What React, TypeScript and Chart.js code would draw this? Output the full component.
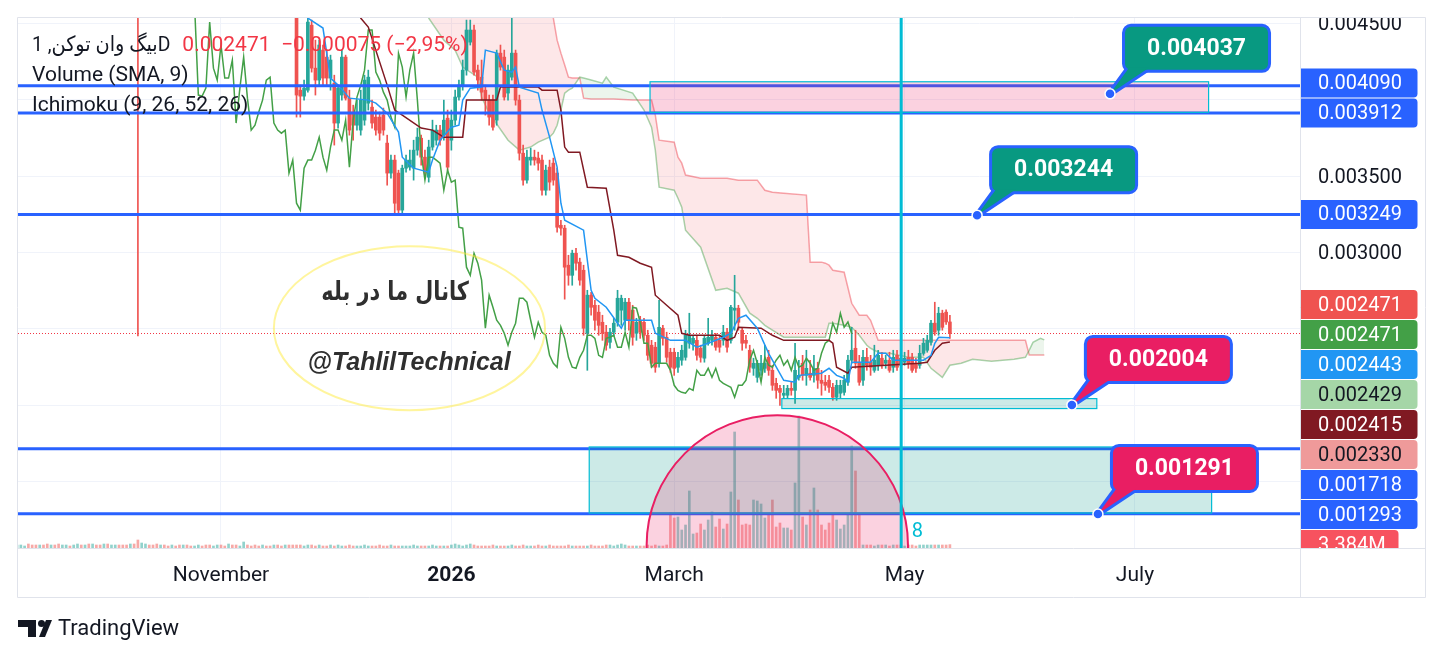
import React, { useEffect, useRef } from 'react';
import { Chart, registerables } from 'chart.js';

Chart.register(...registerables);

// ---------- axes (x: days since 1 Nov 2025, y: price in 0.000001) ----------
const xMinDay = -53.75;
const xMaxDay = 285.7;
const monthTickDays = [0, 61, 120, 181, 242];
const monthTickLabels = ['November', '2026', 'March', 'May', 'July'];
const yMinMicro = 1068.6;
const yMaxMicro = 4532.7;
const priceGridTicks = [1500, 2000, 2500, 3000, 3500, 4000, 4500];
const priceLabelTicks = [3000, 3500, 4500];
const volumeAxisMax = 530;

// ---------- candles ----------
const firstCandleDay = 19;
const candleOpen = [4760,
  4585, 4061, 4022, 4061, 4486, 4205, 4127, 4323, 4277, 4140,
  4107, 3846, 4029, 4277, 4009, 3918, 3832, 3800, 3865, 3976,
  3950, 3885, 3885, 3898, 3715, 3519, 3604, 3519, 3277, 3551,
  3558, 3551, 3669, 3747, 3623, 3492, 3689, 3734, 3800, 3767,
  3878, 3734, 3865, 4016, 4094, 4192, 4375, 4454, 4192, 4146,
  4061, 3996, 3996, 3865, 4303, 4277, 4042, 4146, 4303, 3996,
  3649, 3473, 3604, 3623, 3617, 3604, 3407, 3558, 3584, 3519,
  3178, 3159, 2917, 2851, 2995, 2937, 2884, 2472, 2721, 2655,
  2610, 2544, 2479, 2413, 2479, 2544, 2623, 2557, 2675, 2623,
  2472, 2557, 2544, 2459, 2394, 2381, 2276, 2505, 2446, 2348,
  2348, 2250, 2296, 2315, 2407, 2407, 2426, 2374, 2309, 2407,
  2426, 2446, 2426, 2426, 2479, 2426, 2623, 2636, 2492, 2426,
  2361, 2243, 2184, 2230, 2243, 2315, 2230, 2145, 2112, 2067,
  2067, 2112, 2099, 2184, 2276, 2197, 2211, 2197, 2243, 2165,
  2152, 2165, 2119, 2054, 2080, 2086, 2152, 2296, 2374, 2283,
  2165, 2315, 2283, 2230, 2263, 2309, 2276, 2296, 2250, 2328,
  2309, 2283, 2315, 2315, 2276, 2263, 2341, 2361, 2413, 2538,
  2492, 2603, 2610, 2546];
const candleHigh = [4800,
  4617, 4094, 4127, 4532, 4519, 4388, 4388, 4356, 4323, 4290,
  4159, 4094, 4323, 4290, 4061, 3963, 3996, 4061, 4159, 4192,
  3996, 3931, 3918, 3944, 3767, 3636, 3636, 3538, 3571, 3636,
  3669, 3734, 3813, 3767, 3669, 3734, 3865, 3832, 3832, 3996,
  3931, 3931, 4061, 4127, 4258, 4519, 4519, 4486, 4225, 4258,
  4094, 4029, 4029, 4323, 4356, 4323, 4225, 4585, 4323, 4029,
  3702, 3669, 3682, 3669, 3656, 3636, 3571, 3604, 3617, 3551,
  3211, 3178, 2982, 3015, 3028, 2963, 2917, 2753, 2740, 2688,
  2655, 2590, 2524, 2505, 2570, 2753, 2721, 2701, 2701, 2655,
  2570, 2583, 2570, 2492, 2426, 2413, 2688, 2524, 2479, 2374,
  2374, 2348, 2394, 2492, 2603, 2459, 2459, 2394, 2459, 2570,
  2492, 2472, 2459, 2524, 2505, 2655, 2851, 2655, 2505, 2459,
  2394, 2309, 2296, 2328, 2394, 2361, 2263, 2178, 2132, 2132,
  2132, 2152, 2407, 2296, 2328, 2361, 2296, 2328, 2283, 2230,
  2197, 2197, 2145, 2165, 2165, 2197, 2328, 2511, 2492, 2328,
  2361, 2374, 2328, 2394, 2361, 2348, 2328, 2348, 2361, 2361,
  2374, 2348, 2361, 2341, 2309, 2394, 2439, 2459, 2557, 2675,
  2642, 2623, 2625, 2590];
const candleLow = [4600,
  3885, 3885, 3996, 4048, 4179, 4029, 4094, 4094, 4094, 4061,
  3702, 3813, 3996, 3996, 3767, 3734, 3800, 3767, 3832, 3931,
  3813, 3767, 3734, 3767, 3440, 3486, 3257, 3257, 3257, 3525,
  3538, 3473, 3636, 3571, 3486, 3460, 3669, 3702, 3702, 3734,
  3538, 3669, 3832, 3996, 4061, 4159, 4356, 4159, 4061, 3996,
  3898, 3832, 3800, 3832, 4192, 3996, 3996, 4127, 3963, 3604,
  3440, 3453, 3571, 3571, 3538, 3375, 3375, 3407, 3440, 3133,
  3113, 2695, 2786, 2786, 2884, 2786, 2459, 2230, 2590, 2492,
  2459, 2426, 2361, 2374, 2453, 2518, 2524, 2492, 2492, 2394,
  2426, 2439, 2426, 2296, 2250, 2217, 2250, 2394, 2283, 2217,
  2197, 2217, 2263, 2296, 2374, 2361, 2296, 2283, 2283, 2394,
  2394, 2361, 2348, 2394, 2348, 2407, 2492, 2492, 2361, 2374,
  2217, 2197, 2152, 2197, 2217, 2197, 2099, 2047, 2001, 2047,
  2047, 2067, 2014, 2165, 2165, 2132, 2165, 2152, 2112, 2067,
  2099, 2086, 2034, 2034, 2047, 2067, 2132, 2276, 2243, 2132,
  2132, 2230, 2197, 2217, 2230, 2243, 2243, 2217, 2217, 2230,
  2243, 2263, 2243, 2217, 2217, 2243, 2328, 2348, 2394, 2459,
  2459, 2492, 2530, 2439];
const candleClose = [4620,
  4029, 4022, 4074, 4506, 4205, 4127, 4356, 4140, 4140, 4258,
  3846, 4074, 4277, 4009, 3800, 3832, 3918, 3996, 4127, 4146,
  3846, 3800, 3780, 3800, 3519, 3604, 3322, 3277, 3551, 3604,
  3604, 3669, 3754, 3623, 3538, 3689, 3800, 3800, 3734, 3865,
  3558, 3865, 4016, 4094, 4192, 4454, 4454, 4179, 4127, 4048,
  3996, 3885, 3819, 4303, 4212, 4016, 4192, 4303, 3996, 3649,
  3473, 3623, 3623, 3604, 3584, 3407, 3538, 3460, 3473, 3165,
  3159, 2904, 2851, 2995, 2930, 2819, 2505, 2721, 2642, 2557,
  2524, 2472, 2394, 2479, 2538, 2701, 2701, 2675, 2557, 2446,
  2544, 2479, 2459, 2328, 2276, 2250, 2511, 2439, 2315, 2250,
  2243, 2315, 2361, 2459, 2459, 2439, 2328, 2315, 2439, 2446,
  2459, 2381, 2381, 2479, 2381, 2642, 2636, 2544, 2407, 2407,
  2250, 2276, 2276, 2276, 2276, 2230, 2132, 2099, 2086, 2080,
  2112, 2099, 2230, 2197, 2197, 2243, 2184, 2243, 2165, 2145,
  2132, 2119, 2054, 2132, 2132, 2165, 2296, 2361, 2276, 2152,
  2315, 2263, 2250, 2296, 2328, 2263, 2296, 2230, 2315, 2250,
  2263, 2309, 2276, 2230, 2243, 2341, 2407, 2426, 2538, 2479,
  2603, 2511, 2546, 2471];
const earlyWickDay = [-22];
const earlyWickLow = [2455];
const earlyWickHigh = [4950];

// ---------- volume (millions) ----------
const firstVolumeDay = -54;
const volumeBeforeCandles = [
  3, 3, 2, 4, 3, 3, 3, 3, 4, 3,
  3, 4, 3, 3, 2, 3, 4, 3, 3, 4,
  4, 3, 3, 4, 4, 3, 3, 3, 3, 3,
  4, 4, 8, 5, 4, 3, 3, 4, 3, 3,
  2, 3, 2, 3, 3, 3, 2, 2, 3, 2,
  3, 3, 2, 3, 3, 2, 4, 3, 3, 2,
  6, 3, 2, 3, 2, 3, 2, 2, 3, 3, 2, 3, 3];
const volumeBeforeCandlesUp = [
  1, 1, 1, 0, 0, 0, 1, 0, 0, 1,
  0, 0, 1, 1, 0, 1, 1, 0, 1, 0,
  1, 0, 0, 1, 0, 1, 1, 0, 0, 0,
  1, 0, 0, 1, 1, 0, 0, 0, 1, 0,
  0, 1, 0, 0, 1, 0, 0, 1, 1, 0,
  0, 0, 1, 1, 0, 0, 1, 0, 0, 1,
  1, 0, 0, 0, 0, 1, 0, 0, 1, 0, 0, 1, 0];
const candleVolume = [3,
  3, 3, 2, 3, 3, 2, 3, 2, 2, 3,
  2, 3, 2, 2, 3, 2, 2, 2, 3, 2,
  2, 2, 3, 2, 2, 3, 2, 2, 2, 2,
  2, 3, 2, 2, 2, 2, 3, 2, 2, 2,
  2, 3, 4, 3, 2, 3, 4, 3, 2, 2,
  2, 2, 3, 2, 2, 2, 2, 3, 2, 2,
  3, 2, 2, 2, 3, 2, 2, 3, 2, 2,
  2, 2, 3, 2, 2, 2, 2, 2, 3, 2,
  2, 2, 3, 3, 2, 3, 4, 3, 2, 2,
  2, 2, 2, 3, 2, 3, 2, 2, 3,
  35, 30, 31, 18, 23, 57, 14, 15, 24, 18,
  28, 36, 21, 29, 19, 24, 56, 116, 48, 23,
  24, 23, 48, 47, 44, 30, 33, 48, 21, 25,
  20, 20, 18, 65, 132, 31, 23, 38, 60, 38,
  23, 18, 25, 34, 28, 19, 23, 33, 102, 77,
  34,
  3, 3, 3, 2, 3, 3, 3, 2, 3, 3,
  3, 2, 3, 3, 2, 3, 3, 3, 3, 3,
  3, 3, 3, 3.384];

// ---------- Ichimoku (9, 26, 52, 26) ----------
const laggingShift = 26;
const convDays = [22, 23, 27, 29, 31, 34, 39, 41, 44, 47, 48, 51, 55, 56, 58, 61, 63, 64, 66, 69, 70, 73, 75, 77, 78, 79, 84, 85, 87, 89, 90, 91, 96, 98, 99, 102, 106, 107, 114, 115, 119, 123, 126, 129, 133, 135, 137, 139, 142, 145, 149, 152, 153, 159, 161, 163, 165, 166, 167, 172, 174, 176, 178, 186, 188, 189, 190, 193];
const convValues = [4750, 4532, 4467, 4140, 4094, 4009, 3996, 3976, 3911, 3787, 3623, 3551, 3525, 3604, 3734, 3819, 3832, 3996, 4074, 4081, 4323, 4303, 4192, 4179, 4212, 4081, 4042, 3931, 3754, 3558, 3322, 3211, 3146, 2753, 2701, 2642, 2505, 2557, 2557, 2472, 2426, 2426, 2381, 2407, 2446, 2472, 2570, 2590, 2505, 2341, 2165, 2152, 2197, 2211, 2243, 2197, 2178, 2152, 2283, 2283, 2341, 2341, 2296, 2296, 2328, 2407, 2446, 2443];
const baseDays = [35, 37, 39, 44, 46, 48, 53, 56, 59, 64, 65, 73, 74, 84, 85, 89, 90, 91, 92, 95, 97, 102, 104, 105, 108, 111, 114, 115, 118, 121, 122, 124, 132, 134, 136, 137, 143, 146, 149, 161, 162, 163, 166, 167, 185, 187, 189, 191, 193];
const baseValues = [4750, 4532, 4473, 4094, 3931, 3898, 3813, 3800, 3754, 3754, 3996, 3996, 4081, 4081, 4061, 4061, 3931, 3689, 3656, 3656, 3427, 3420, 3146, 2982, 2969, 2930, 2904, 2721, 2655, 2590, 2472, 2459, 2459, 2426, 2446, 2511, 2505, 2459, 2426, 2426, 2407, 2250, 2211, 2250, 2276, 2283, 2361, 2407, 2415];
const cloudDays = [53, 55, 59, 62, 64, 68, 69, 71, 76, 79, 82, 84, 87, 88, 89, 90, 91, 92, 93, 95, 96, 98, 101, 102, 104, 109, 112, 114, 115, 116, 120, 121, 122, 123, 127, 131, 134, 137, 140, 142, 144, 146, 149, 155, 156, 159, 160, 161, 162, 165, 167, 169, 171, 172, 174, 175, 177, 182, 186, 188, 191, 193, 196, 199, 204, 210, 213, 214, 215, 217, 218];
const spanAValues = [4650, 4532, 4388, 4323, 4212, 4146, 4016, 3911, 3734, 3669,
  3689, 3721, 3754, 3780, 3832, 3931, 4042, 4061, 4074, 4146,
  4140, 4127, 4107, 4146, 4081, 4042, 3931, 3819, 3669, 3427,
  3407, 3355, 3296, 3146, 3035, 2753, 2766, 2734, 2603, 2570,
  2524, 2492, 2446, 2446, 2446, 2446, 2446, 2538, 2538, 2524,
  2511, 2459, 2394, 2374, 2348, 2341, 2341, 2315, 2315, 2243,
  2184, 2263, 2276, 2302, 2289, 2302, 2315, 2361, 2413, 2439,
  2429];
const spanBValues = [4800, 4800, 4800, 4800, 4800, 4800, 4800, 4800, 4800, 4800,
  4800, 4800, 4700, 4532, 4388, 4303, 4225, 4146, 4140, 4140,
  4009, 4003, 4003, 4003, 4003, 3996, 3996, 3996, 3898, 3734,
  3721, 3623, 3584, 3506, 3486, 3486, 3486, 3473, 3473, 3473,
  3407, 3394, 3388, 3375, 2937, 2937, 2930, 2917, 2884, 2871,
  2668, 2590, 2590, 2557, 2426, 2426, 2426, 2426, 2426, 2426,
  2426, 2426, 2426, 2426, 2426, 2426, 2426, 2330, 2330, 2330,
  2330];

// ---------- drawings ----------
const levelValues = [4090, 3912, 3249, 1718, 1293];
const rectDayFrom = [113.6, 148.5, 97.5];
const rectDayTo = [261.5, 231.9, 262.3];
const rectValueTop = [4116, 2045, 1729];
const rectValueBottom = [3916, 1980, 1297];
const rectFill = ['rgba(233,30,99,0.2)', 'rgba(0,150,136,0.2)', 'rgba(0,150,136,0.2)'];
const circleDayFrom = 112.7;
const circleDayTo = 181.9;
const circleCenterValue = 1086;
const circleTopValue = 1936;
const verticalLineDay = 180.1;
const ovalDayFrom = 14.0;
const ovalDayTo = 85.8;
const ovalValueTop = 3041;
const ovalValueBottom = 1969;
const channelTextFa = 'کانال ما در بله';
const channelTextFaDay = 46.1;
const channelTextFaValue = 2734;
const channelTextEn = '@TahlilTechnical';
const channelTextEnDay = 49.8;
const channelTextEnValue = 2276;
const countText = '8';
const countTextDay = 182.9;
const countTextValue = 1171;
const calloutDays = [235.4, 200.2, 225.3, 232.2];
const calloutValues = [4037, 3244, 2004, 1291];
const calloutColors = ['#089981', '#089981', '#E91E63', '#E91E63'];

// ---------- legend ----------
const legendTitle = 'بیگ وان توکن, 1D';
const legendPrice = '0.002471  −0.000075 (−2,95%)';
const legendLines = ['Volume (SMA, 9)', 'Ichimoku (9, 26, 52, 26)'];

const UP = '#26A69A';
const DOWN = '#EF5350';
const VOL_UP = 'rgba(38,166,154,0.5)';
const VOL_DOWN = 'rgba(239,83,80,0.5)';
const FRAME = '#E0E3EB';
const TEXT = '#131722';

const fmtPrice = (v: number) => (v / 1e6).toFixed(6);

function roundRectPath(ctx: CanvasRenderingContext2D, x: number, y: number, w: number, h: number, r: number) {
  ctx.beginPath();
  ctx.moveTo(x + r, y);
  ctx.lineTo(x + w - r, y);
  ctx.arcTo(x + w, y, x + w, y + r, r);
  ctx.lineTo(x + w, y + h - r);
  ctx.arcTo(x + w, y + h, x + w - r, y + h, r);
  ctx.lineTo(x + r, y + h);
  ctx.arcTo(x, y + h, x, y + h - r, r);
  ctx.lineTo(x, y + r);
  ctx.arcTo(x, y, x + r, y, r);
  ctx.closePath();
}

function tagPath(ctx: CanvasRenderingContext2D, x: number, y: number, w: number, h: number, r: number) {
  ctx.beginPath();
  ctx.moveTo(x, y);
  ctx.lineTo(x + w - r, y);
  ctx.arcTo(x + w, y, x + w, y + r, r);
  ctx.lineTo(x + w, y + h - r);
  ctx.arcTo(x + w, y + h, x + w - r, y + h, r);
  ctx.lineTo(x, y + h);
  ctx.closePath();
}

const overlayPlugin = {
  id: 'overlay',
  beforeDatasetsDraw(chart: any) {
    const { ctx, chartArea: a } = chart;
    const ys = chart.scales.y;
    ctx.save();
    ctx.beginPath();
    ctx.rect(a.left, a.top, a.right - a.left, a.bottom - a.top);
    ctx.clip();
    const py = Math.round(ys.getPixelForValue(candleClose[candleClose.length - 1])) + 0.5;
    ctx.strokeStyle = '#F23645';
    ctx.lineWidth = 1;
    ctx.setLineDash([1, 2]);
    ctx.beginPath();
    ctx.moveTo(a.left, py);
    ctx.lineTo(a.right, py);
    ctx.stroke();
    ctx.restore();
  },
  afterDatasetsDraw(chart: any) {
    const { ctx, chartArea: a } = chart;
    const xs = chart.scales.x;
    const ys = chart.scales.y;
    const X = (d: number) => xs.getPixelForValue(d);
    const Y = (v: number) => ys.getPixelForValue(v);
    ctx.save();
    ctx.beginPath();
    ctx.rect(a.left, a.top, a.right - a.left, a.bottom - a.top);
    ctx.clip();

    // horizontal levels
    ctx.strokeStyle = '#2962FF';
    ctx.lineWidth = 3;
    levelValues.forEach((v) => {
      const py = Y(v);
      ctx.beginPath();
      ctx.moveTo(a.left, py);
      ctx.lineTo(a.right, py);
      ctx.stroke();
    });

    // rectangles
    rectDayFrom.forEach((d, k) => {
      const x1 = X(d), x2 = X(rectDayTo[k]);
      const y1 = Y(rectValueTop[k]), y2 = Y(rectValueBottom[k]);
      ctx.fillStyle = rectFill[k];
      ctx.fillRect(x1, y1, x2 - x1, y2 - y1);
      ctx.strokeStyle = '#00BCD4';
      ctx.lineWidth = 1.2;
      ctx.strokeRect(x1, y1, x2 - x1, y2 - y1);
    });

    // circle
    {
      const x1 = X(circleDayFrom), x2 = X(circleDayTo);
      const cy = Y(circleCenterValue);
      const ry = cy - Y(circleTopValue);
      ctx.beginPath();
      ctx.ellipse((x1 + x2) / 2, cy, (x2 - x1) / 2, ry, 0, 0, Math.PI * 2);
      ctx.fillStyle = 'rgba(233,30,99,0.2)';
      ctx.fill();
      ctx.strokeStyle = '#E91E63';
      ctx.lineWidth = 2;
      ctx.stroke();
    }

    // vertical line
    {
      const px = X(verticalLineDay);
      ctx.strokeStyle = '#00BCD4';
      ctx.lineWidth = 3;
      ctx.beginPath();
      ctx.moveTo(px, a.top);
      ctx.lineTo(px, a.bottom);
      ctx.stroke();
    }

    // yellow oval with channel text
    {
      const x1 = X(ovalDayFrom), x2 = X(ovalDayTo);
      const y1 = Y(ovalValueTop), y2 = Y(ovalValueBottom);
      ctx.beginPath();
      ctx.ellipse((x1 + x2) / 2, (y1 + y2) / 2, (x2 - x1) / 2, (y2 - y1) / 2, 0, 0, Math.PI * 2);
      ctx.strokeStyle = 'rgba(255,235,59,0.5)';
      ctx.lineWidth = 2;
      ctx.stroke();
      ctx.fillStyle = '#2f2f2f';
      ctx.textAlign = 'center';
      ctx.textBaseline = 'middle';
      ctx.save();
      ctx.translate(X(channelTextFaDay), Y(channelTextFaValue));
      ctx.scale(0.8, 1);
      ctx.font = 'bold 26px "DejaVu Sans"';
      ctx.fillText(channelTextFa, 0, 0);
      ctx.restore();
      ctx.font = 'italic bold 25px "Liberation Sans"';
      ctx.fillText(channelTextEn, X(channelTextEnDay), Y(channelTextEnValue));
    }

    // count label
    ctx.fillStyle = '#00BCD4';
    ctx.font = '20px Roboto';
    ctx.textAlign = 'left';
    ctx.textBaseline = 'middle';
    ctx.fillText(countText, X(countTextDay), Y(countTextValue));

    // callouts
    calloutDays.forEach((d, k) => {
      const ax = X(d), ay = Y(calloutValues[k]);
      const bx = ax + 15, by = ay - 67, bw = 143, bh = 43;
      ctx.lineJoin = 'round';
      ctx.strokeStyle = '#2962FF';
      ctx.lineWidth = 6;
      roundRectPath(ctx, bx, by, bw, bh, 6);
      ctx.stroke();
      ctx.beginPath();
      ctx.moveTo(ax, ay);
      ctx.lineTo(bx + 4, by + bh - 2);
      ctx.lineTo(bx + 24, by + bh - 2);
      ctx.closePath();
      ctx.stroke();
      ctx.fillStyle = calloutColors[k];
      roundRectPath(ctx, bx, by, bw, bh, 6);
      ctx.fill();
      ctx.beginPath();
      ctx.moveTo(ax, ay);
      ctx.lineTo(bx + 4, by + bh - 2);
      ctx.lineTo(bx + 24, by + bh - 2);
      ctx.closePath();
      ctx.fill();
      ctx.fillStyle = '#FFFFFF';
      ctx.font = 'bold 23px Roboto';
      ctx.textAlign = 'center';
      ctx.textBaseline = 'middle';
      ctx.fillText(fmtPrice(calloutValues[k]), bx + bw / 2, by + bh / 2 + 1);
      ctx.beginPath();
      ctx.arc(ax, ay, 5, 0, Math.PI * 2);
      ctx.fillStyle = '#2962FF';
      ctx.fill();
      ctx.strokeStyle = '#FFFFFF';
      ctx.lineWidth = 1.5;
      ctx.stroke();
    });
    ctx.restore();
  },
  afterDraw(chart: any) {
    const { ctx, chartArea: a } = chart;
    const ys = chart.scales.y;
    const yv = chart.scales.yv;
    const Y = (v: number) => ys.getPixelForValue(v);

    ctx.save();
    // price axis labels
    ctx.save();
    ctx.beginPath();
    ctx.rect(a.right, a.top - 1, 130, a.bottom - a.top + 1);
    ctx.clip();
    ctx.fillStyle = TEXT;
    ctx.font = '20px Roboto';
    ctx.textAlign = 'left';
    ctx.textBaseline = 'middle';
    priceLabelTicks.forEach((v) => ctx.fillText(fmtPrice(v), a.right + 18, Y(v) + 2));

    // price tags
    const lastIdx = candleClose.length - 1;
    const tags: any[] = [];
    levelValues.forEach((v) => tags.push({ y: Y(v), text: fmtPrice(v), bg: '#2962FF', fg: '#FFFFFF', w: 117 }));
    tags.push({ y: Y(candleClose[lastIdx]), text: fmtPrice(candleClose[lastIdx]), bg: '#EF5350', fg: '#FFFFFF', w: 117 });
    tags.push({ y: Y(candleClose[lastIdx]), text: fmtPrice(candleClose[lastIdx]), bg: '#43A047', fg: '#FFFFFF', w: 117 });
    tags.push({ y: Y(convValues[convValues.length - 1]), text: fmtPrice(convValues[convValues.length - 1]), bg: '#2196F3', fg: '#FFFFFF', w: 117 });
    tags.push({ y: Y(spanAValues[spanAValues.length - 1]), text: fmtPrice(spanAValues[spanAValues.length - 1]), bg: '#A5D6A7', fg: TEXT, w: 117 });
    tags.push({ y: Y(baseValues[baseValues.length - 1]), text: fmtPrice(baseValues[baseValues.length - 1]), bg: '#801922', fg: '#FFFFFF', w: 117 });
    tags.push({ y: Y(spanBValues[spanBValues.length - 1]), text: fmtPrice(spanBValues[spanBValues.length - 1]), bg: '#EF9A9A', fg: TEXT, w: 117 });
    const lastVol = candleVolume[candleVolume.length - 1];
    tags.push({ y: yv.getPixelForValue(lastVol), text: lastVol.toFixed(3) + 'M', bg: '#F7525F', fg: '#FFFFFF', w: 98 });
    const sorted = tags.map((t, i) => ({ ...t, i })).sort((p, q) => p.y - q.y || p.i - q.i);
    const STEP = 30;
    const clusters: any[][] = [];
    sorted.forEach((t) => {
      const last = clusters[clusters.length - 1];
      if (last && t.y < last[last.length - 1].py + STEP) {
        t.py = last[last.length - 1].py + STEP;
        last.push(t);
      } else {
        t.py = t.y;
        clusters.push([t]);
      }
    });
    clusters.forEach((c) => {
      const b = c[c.length - 1];
      const shift = Math.min(0, b.y - b.py);
      c.forEach((t) => (t.py += shift));
    });
    sorted.forEach((t) => {
      tagPath(ctx, a.right + 0.5, t.py - 14.5, t.w, 29, 4);
      ctx.fillStyle = t.bg;
      ctx.fill();
      ctx.fillStyle = t.fg;
      ctx.font = '20px Roboto';
      ctx.textAlign = 'left';
      ctx.textBaseline = 'middle';
      ctx.fillText(t.text, a.right + 18, t.py + 1);
    });
    ctx.restore();

    // frame
    ctx.strokeStyle = FRAME;
    ctx.lineWidth = 1;
    ctx.beginPath();
    ctx.moveTo(17.5, 17.5); ctx.lineTo(1425.5, 17.5);
    ctx.moveTo(17.5, 597.5); ctx.lineTo(1425.5, 597.5);
    ctx.moveTo(17.5, 17.5); ctx.lineTo(17.5, 597.5);
    ctx.moveTo(1425.5, 17.5); ctx.lineTo(1425.5, 597.5);
    ctx.moveTo(a.right + 0.5, 17.5); ctx.lineTo(a.right + 0.5, 597.5);
    ctx.moveTo(17.5, a.bottom + 0.5); ctx.lineTo(1425.5, a.bottom + 0.5);
    ctx.stroke();

    // legend
    ctx.textAlign = 'left';
    ctx.textBaseline = 'middle';
    ctx.direction = 'ltr';
    ctx.font = '21px Roboto, "DejaVu Sans"';
    ctx.fillStyle = TEXT;
    ctx.save();
    ctx.translate(32, 46);
    ctx.scale(0.92, 1);
    ctx.fillText(legendTitle, 0, 0);
    const tw = ctx.measureText(legendTitle).width * 0.92;
    ctx.restore();
    ctx.font = '21px Roboto';
    ctx.fillStyle = '#F23645';
    ctx.fillText(legendPrice, 32 + tw + 12, 46);
    ctx.fillStyle = TEXT;
    legendLines.forEach((s, k) => ctx.fillText(s, 32, 76 + k * 30));

    // TradingView logo
    ctx.fillStyle = TEXT;
    ctx.fillRect(18, 620, 18, 7);
    ctx.fillRect(28, 620, 8, 17);
    ctx.beginPath();
    ctx.arc(41.5, 623.5, 3.5, 0, Math.PI * 2);
    ctx.fill();
    ctx.beginPath();
    ctx.moveTo(39, 637);
    ctx.lineTo(45, 637);
    ctx.lineTo(52, 620);
    ctx.lineTo(46, 620);
    ctx.closePath();
    ctx.fill();
    ctx.font = '22px Roboto';
    ctx.fillText('TradingView', 58, 629);
    ctx.restore();
  },
};

export default function App() {
  const ref = useRef<HTMLCanvasElement>(null);
  useEffect(() => {
    const canvas = ref.current;
    if (!canvas) return;
    const candleDays = candleClose.map((_, j) => firstCandleDay + j);
    const isUp = (j: number) => candleClose[j] >= candleOpen[j];
    const wickData = [
      ...earlyWickDay.map((d, k) => ({ x: d, y: [earlyWickLow[k], earlyWickHigh[k]] })),
      ...candleDays.map((d, j) => ({ x: d, y: [candleLow[j], candleHigh[j]] })),
    ];
    const wickColors = [...earlyWickDay.map(() => DOWN), ...candleDays.map((_, j) => (isUp(j) ? UP : DOWN))];
    const bodyData = candleDays.map((d, j) => ({ x: d, y: [candleOpen[j], candleClose[j]] }));
    const bodyColors = candleDays.map((_, j) => (isUp(j) ? UP : DOWN));
    const volData = [
      ...volumeBeforeCandles.map((v, k) => ({ x: firstVolumeDay + k, y: v })),
      ...candleVolume.map((v, j) => ({ x: firstCandleDay + j, y: v })),
    ];
    const volColors = [
      ...volumeBeforeCandlesUp.map((u) => (u ? VOL_UP : VOL_DOWN)),
      ...candleVolume.map((_, j) => (isUp(j) ? VOL_UP : VOL_DOWN)),
    ];
    const laggingData = candleDays.map((d, j) => ({ x: d - laggingShift, y: candleClose[j] }));
    const lineCommon = { pointRadius: 0, borderWidth: 1.5, tension: 0, yAxisID: 'y' };

    const chart = new Chart(canvas, {
      type: 'line',
      data: {
        datasets: [
          { ...lineCommon, type: 'line', label: 'Leading Span B', data: cloudDays.map((d, i) => ({ x: d, y: spanBValues[i] })), borderColor: 'rgba(242,54,69,0.45)', fill: false, order: 8 } as any,
          { ...lineCommon, type: 'line', label: 'Leading Span A', data: cloudDays.map((d, i) => ({ x: d, y: spanAValues[i] })), borderColor: 'rgba(67,160,71,0.45)', fill: { target: 0, above: 'rgba(67,160,71,0.1)', below: 'rgba(242,54,69,0.12)' }, order: 7 } as any,
          { type: 'bar', label: 'Volume', data: volData, backgroundColor: volColors, barThickness: 2, grouped: false, yAxisID: 'yv', order: 9 } as any,
          { type: 'bar', label: 'Wicks', data: wickData, backgroundColor: wickColors, barThickness: 1, grouped: false, yAxisID: 'y', order: 5 } as any,
          { type: 'bar', label: 'Bodies', data: bodyData, backgroundColor: bodyColors, barThickness: 3, minBarLength: 1, grouped: false, yAxisID: 'y', order: 4 } as any,
          { ...lineCommon, type: 'line', label: 'Lagging Span', data: laggingData, borderColor: '#43A047', fill: false, order: 3 } as any,
          { ...lineCommon, type: 'line', label: 'Base Line', data: baseDays.map((d, i) => ({ x: d, y: baseValues[i] })), borderColor: '#801922', fill: false, order: 2 } as any,
          { ...lineCommon, type: 'line', label: 'Conversion Line', data: convDays.map((d, i) => ({ x: d, y: convValues[i] })), borderColor: '#2196F3', fill: false, order: 1 } as any,
        ],
      },
      options: {
        animation: false,
        responsive: false,
        maintainAspectRatio: false,
        events: [],
        layout: { padding: { left: 18, top: 18, right: 19, bottom: 62 } },
        plugins: { legend: { display: false }, tooltip: { enabled: false } },
        scales: {
          x: {
            type: 'linear',
            min: xMinDay,
            max: xMaxDay,
            offset: false,
            grid: { color: '#F0F3FA', drawTicks: false, offset: false },
            border: { display: false },
            afterBuildTicks: (s: any) => { s.ticks = monthTickDays.map((v) => ({ value: v })); },
            afterFit: (s: any) => { s.height = 49; },
            ticks: {
              autoSkip: false,
              maxRotation: 0,
              padding: 15,
              color: TEXT,
              font: (c: any) => ({ family: 'Roboto', size: 21, weight: c.tick && c.tick.value === 61 ? 'bold' : 'normal' }),
              callback: (v: any) => { const k = monthTickDays.indexOf(Number(v)); return k >= 0 ? monthTickLabels[k] : ''; },
            },
          },
          y: {
            type: 'linear',
            position: 'right',
            min: yMinMicro,
            max: yMaxMicro,
            grid: { color: '#F0F3FA', drawTicks: false },
            border: { display: false },
            afterBuildTicks: (s: any) => { s.ticks = priceGridTicks.map((v) => ({ value: v })); },
            afterFit: (s: any) => { s.width = 125; },
            ticks: { display: false },
          },
          yv: { type: 'linear', display: false, min: 0, max: volumeAxisMax },
        },
      } as any,
      plugins: [overlayPlugin],
    } as any);
    return () => chart.destroy();
  }, []);

  return (
    <div style={{ position: 'absolute', left: 0, top: 0, width: 1444, height: 659, background: '#FFFFFF' }}>
      <canvas ref={ref} width={1444} height={659} style={{ display: 'block', width: 1444, height: 659 }} />
    </div>
  );
}
